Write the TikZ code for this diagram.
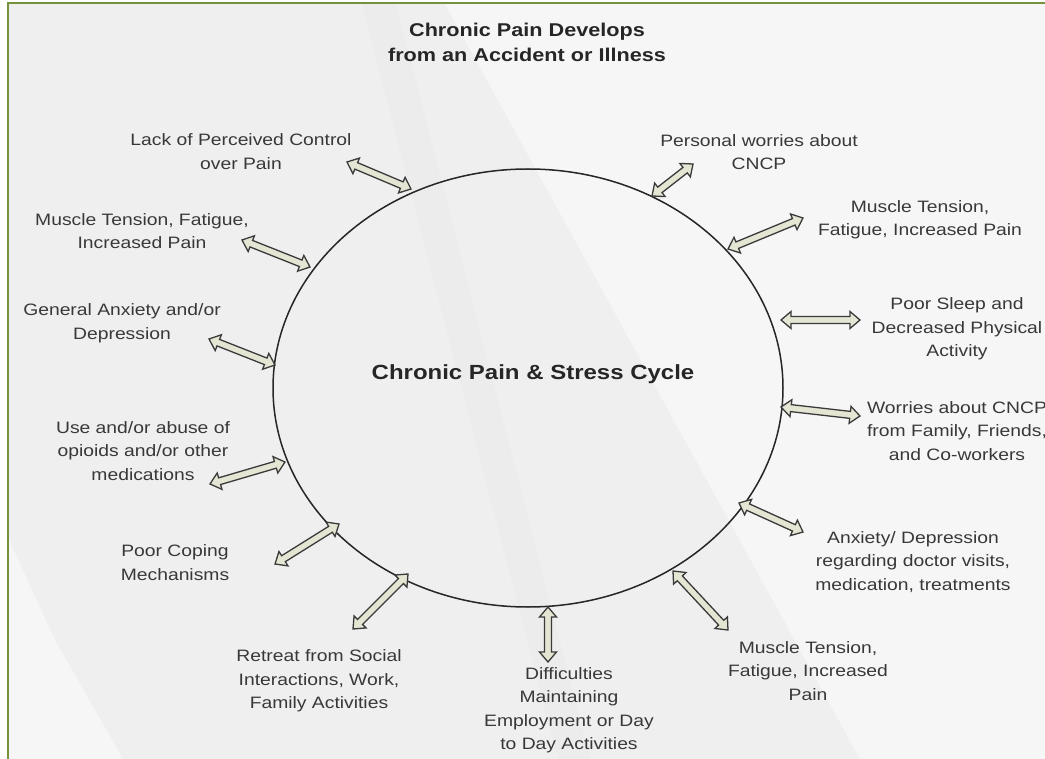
\documentclass[tikz,border=0pt]{standalone}
\usepackage{fontspec}
\setmainfont{Liberation Sans}[FakeStretch=1.17]
\usetikzlibrary{calc,shapes.geometric}
\definecolor{bgbase}{HTML}{EFEFEF}
\definecolor{bglight}{HTML}{F6F6F6}
\definecolor{bgdark}{HTML}{ECECEC}
\definecolor{frame}{HTML}{76923C}
\definecolor{arrfill}{HTML}{E4E5D3}
\definecolor{arrline}{HTML}{3A3A3A}
\definecolor{txt}{HTML}{383838}
\newcommand\arrHL{10pt}
\newcommand\arrHW{8.5pt}
\newcommand\arrSW{3.5pt}
\newcommand\dblarr[2]{%
  \filldraw[arrowbody] (#1)
    -- ($(#1)!\arrHL!(#2)!\arrHW!90:(#2)$)
    -- ($(#1)!\arrHL!(#2)!\arrSW!90:(#2)$)
    -- ($(#2)!\arrHL!(#1)!\arrSW!-90:(#1)$)
    -- ($(#2)!\arrHL!(#1)!\arrHW!-90:(#1)$)
    -- (#2)
    -- ($(#2)!\arrHL!(#1)!\arrHW!90:(#1)$)
    -- ($(#2)!\arrHL!(#1)!\arrSW!90:(#1)$)
    -- ($(#1)!\arrHL!(#2)!\arrSW!-90:(#2)$)
    -- ($(#1)!\arrHL!(#2)!\arrHW!-90:(#2)$)
    -- cycle;}
\begin{document}
\begin{tikzpicture}[x=1pt,y=-1pt,
  arrowbody/.style={fill=arrfill,draw=arrline,line width=1.3pt,line join=miter},
  lbl/.style={align=center,inner sep=0pt,text=txt,font=\fontsize{16.5}{23.5}\selectfont},
  ttl/.style={align=center,inner sep=0pt,text=black!85,font=\fontsize{18.5}{25}\selectfont\bfseries}]
\useasboundingbox (0,0) rectangle (1045,759);
\clip (0,0) rectangle (1045,759);
% background
\fill[white] (0,0) rectangle (1045,759);
\fill[bgbase] (9,4) rectangle (1045,759);
\fill[bglight] (445,4) -- (1045,4) -- (1045,759) -- (860,759) -- cycle;
\fill[bgdark] (362,4) -- (396,4) -- (590,759) -- (558,759) -- cycle;
\fill[bglight] (9,540) -- (55,640) -- (123,759) -- (9,759) -- cycle;
\draw[frame,line width=2pt] (8,759) -- (8,3.5) -- (1045,3.5);
% title
\node[ttl] (title) at (527,42) {Chronic Pain Develops\\from an Accident or Illness};
% cycle
\node[draw=black!85,line width=1.5pt,ellipse,minimum width=510pt,minimum height=438pt,inner sep=0pt] (cyc) at (528,388) {};
\node[inner sep=0pt,text=black!85,font=\fontsize{20.5}{24}\selectfont\bfseries] (center) at (533,374) {Chronic Pain \& Stress Cycle};
% labels
\node[lbl] (l1) at (241,151.5) {Lack of Perceived Control\\over Pain};
\node[lbl] (l2) at (759,152) {Personal worries about\\CNCP};
\node[lbl] (l3) at (142,231) {Muscle Tension, Fatigue,\\Increased Pain};
\node[lbl] (l4) at (920,219.5) {Muscle Tension,\\Fatigue, Increased Pain};
\node[lbl] (l5) at (122,323) {General Anxiety and/or\\Depression};
\node[lbl] (l6) at (957,329) {Poor Sleep and\\Decreased Physical\\Activity};
\node[lbl] (l7) at (143,451) {Use and/or abuse of\\opioids and/or other\\medications};
\node[lbl] (l8) at (957,431) {Worries about CNCP\\from Family, Friends,\\and Co-workers};
\node[lbl] (l9) at (175,562.5) {Poor Coping\\Mechanisms};
\node[lbl] (l10) at (913,562) {Anxiety/ Depression\\regarding doctor visits,\\medication, treatments};
\node[lbl] (l11) at (319,681) {Retreat from Social\\Interactions, Work,\\Family Activities};
\node[lbl] (l12) at (569,710) {Difficulties\\Maintaining\\Employment or Day\\to Day Activities};
\node[lbl] (l13) at (808,671) {Muscle Tension,\\Fatigue, Increased\\Pain};
% arrow ends
\coordinate (o1) at (347,162);  \coordinate (i1) at (411,189);
\coordinate (i2) at (652,196);  \coordinate (o2) at (693,164);
\coordinate (o3) at (242,240);  \coordinate (i3) at (310,267);
\coordinate (i4) at (728,249);  \coordinate (o4) at (803,218);
\coordinate (o5) at (209,339);  \coordinate (i5) at (275,365);
\coordinate (i6) at (781,320);  \coordinate (o6) at (860,320);
\coordinate (o7) at (210,484);  \coordinate (i7) at (285,462);
\coordinate (i8) at (781,407);  \coordinate (o8) at (860,416);
\coordinate (o9) at (275,564);  \coordinate (i9) at (339,524);
\coordinate (i10) at (739,503); \coordinate (o10) at (803,532);
\coordinate (o11) at (353,629); \coordinate (i11) at (408,574);
\coordinate (i12) at (548,607); \coordinate (o12) at (548,662);
\coordinate (i13) at (673,571); \coordinate (o13) at (728,630);
\dblarr{o1}{i1}
\dblarr{i2}{o2}
\dblarr{o3}{i3}
\dblarr{i4}{o4}
\dblarr{o5}{i5}
\dblarr{i6}{o6}
\dblarr{o7}{i7}
\dblarr{i8}{o8}
\dblarr{o9}{i9}
\dblarr{i10}{o10}
\dblarr{o11}{i11}
\dblarr{i12}{o12}
\dblarr{i13}{o13}
\end{tikzpicture}
\end{document}
